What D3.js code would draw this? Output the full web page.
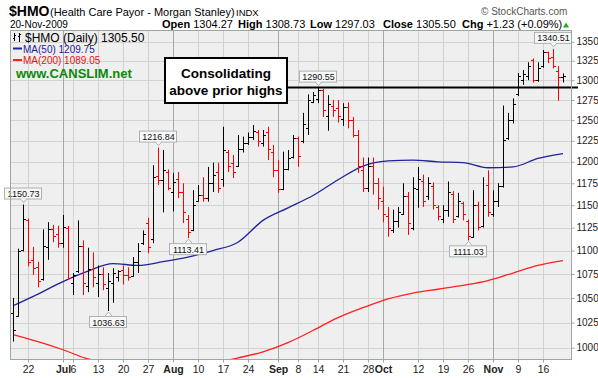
<!DOCTYPE html>
<html>
<head>
<meta charset="utf-8">
<script src="https://d3js.org/d3.v7.min.js"></script>
<style>
  body { margin: 0; background: #fff; }
  text { font-family: Arial, "Liberation Sans", sans-serif; }
</style>
</head>
<body>
<script>
// trading days on the chart
var dates = [
  "2009-06-17","2009-06-18","2009-06-19","2009-06-22","2009-06-23","2009-06-24","2009-06-25","2009-06-26","2009-06-29","2009-06-30",
  "2009-07-01","2009-07-02","2009-07-06","2009-07-07","2009-07-08","2009-07-09","2009-07-10","2009-07-13","2009-07-14","2009-07-15",
  "2009-07-16","2009-07-17","2009-07-20","2009-07-21","2009-07-22","2009-07-23","2009-07-24","2009-07-27","2009-07-28","2009-07-29",
  "2009-07-30","2009-07-31","2009-08-03","2009-08-04","2009-08-05","2009-08-06","2009-08-07","2009-08-10","2009-08-11","2009-08-12",
  "2009-08-13","2009-08-14","2009-08-17","2009-08-18","2009-08-19","2009-08-20","2009-08-21","2009-08-24","2009-08-25","2009-08-26",
  "2009-08-27","2009-08-28","2009-08-31","2009-09-01","2009-09-02","2009-09-03","2009-09-04","2009-09-08","2009-09-09","2009-09-10",
  "2009-09-11","2009-09-14","2009-09-15","2009-09-16","2009-09-17","2009-09-18","2009-09-21","2009-09-22","2009-09-23","2009-09-24",
  "2009-09-25","2009-09-28","2009-09-29","2009-09-30","2009-10-01","2009-10-02","2009-10-05","2009-10-06","2009-10-07","2009-10-08",
  "2009-10-09","2009-10-12","2009-10-13","2009-10-14","2009-10-15","2009-10-16","2009-10-19","2009-10-20","2009-10-21","2009-10-22",
  "2009-10-23","2009-10-26","2009-10-27","2009-10-28","2009-10-29","2009-10-30","2009-11-02","2009-11-03","2009-11-04","2009-11-05",
  "2009-11-06","2009-11-09","2009-11-10","2009-11-11","2009-11-12","2009-11-13","2009-11-16","2009-11-17","2009-11-18","2009-11-19",
  "2009-11-20"
];

// daily open / high / low / close
var opens = [
  1035,1032,1101,1133,1090,1082,1070,1104,1124,1118,
  1108,1125,1065,1078,1105,1062,1080,1066,1075,1060,
  1066,1072,1079,1074,1073,1088,1108,1130,1112,1183,
  1179,1188,1165,1180,1165,1135,1122,1155,1162,1158,
  1175,1188,1180,1212,1198,1195,1215,1222,1230,1236,
  1222,1235,1212,1190,1168,1192,1206,1228,1225,1240,
  1272,1276,1288,1255,1268,1265,1252,1266,1250,1232,
  1190,1170,1195,1175,1155,1138,1122,1132,1140,1160,
  1125,1168,1178,1160,1172,1148,1135,1145,1163,1138,
  1152,1132,1115,1150,1127,1173,1140,1155,1172,1228,
  1250,1282,1300,1305,1326,1300,1318,1336,1330,1312,
  1304.27
];
var highs = [
  1050,1102,1150.73,1135,1104,1088,1123,1131,1128,1127,
  1139,1127,1076,1133,1111,1103,1098,1084,1082,1076,
  1081,1079,1084,1082,1093,1108,1122,1136,1196,1216.84,
  1214,1191,1187,1188,1175,1139,1167,1173,1182,1194,
  1199,1199,1242,1214,1208,1232,1230,1235,1244,1238,
  1238,1242,1220,1202,1212,1214,1232,1230,1259,1282,
  1285,1290.55,1289,1281,1275,1275,1271,1272,1254,1238,
  1205,1205,1205,1181,1171,1148,1145,1148,1175,1165,
  1182,1194,1185,1182,1176,1150,1150,1177,1166,1164,
  1154,1134,1167,1154,1182,1190,1167,1175,1268,1259,
  1277,1309,1313,1323,1328,1323,1339,1337,1340.51,1318,
  1308.73
];
var lows = [
  1006,1031,1099,1083,1074,1061,1068,1090,1109,1103,
  1103,1069,1053,1076,1053,1056,1061,1051,1058,1036.63,
  1045,1067,1064,1068,1072,1076,1106,1097,1108,1173,
  1142,1167,1143,1158,1130,1113.41,1121,1154,1154,1154,
  1165,1164,1171,1188,1181,1194,1211,1220,1226,1218,
  1218,1202,1182,1164,1167,1190,1204,1194,1222,1232,
  1271,1271,1254,1237,1254,1247,1243,1240,1229,1187,
  1165,1165,1162,1145,1131,1115,1119,1125,1139,1117,
  1122,1147,1148,1156,1145,1133,1130,1137,1130,1136,
  1133,1111.03,1114,1122,1125,1137,1137,1148,1170,1226,
  1246,1280,1294,1300,1297,1298,1316,1322,1315,1274,
  1297.03
];
var closes = [
  1018,1100,1134,1088,1081,1068,1105,1124,1116,1108,
  1126,1071,1074,1105,1065,1080,1072,1075,1064,1068,
  1076,1078,1074,1072,1088,1100,1118,1104,1182,1179,
  1190,1170,1177,1165,1142,1120,1150,1162,1158,1175,
  1185,1170,1214,1195,1188,1215,1222,1230,1237,1225,
  1232,1215,1190,1168,1192,1205,1228,1207,1245,1275,
  1281,1287,1262,1270,1262,1255,1266,1250,1232,1195,
  1170,1195,1175,1158,1140,1125,1132,1142,1160,1130,
  1170,1180,1155,1175,1150,1138,1145,1165,1135,1155,
  1140,1116,1150,1126,1150,1142,1155,1172,1226,1250,
  1270,1305,1308,1318,1300,1315,1336,1328,1318,1304.27,
  1305.50
];

// moving averages, read every fifth trading day
var maDates = ["2009-06-17","2009-06-24","2009-07-01","2009-07-09","2009-07-16","2009-07-23","2009-07-30","2009-08-06",
  "2009-08-13","2009-08-20","2009-08-27","2009-09-03","2009-09-11","2009-09-18","2009-09-25","2009-10-02","2009-10-09",
  "2009-10-16","2009-10-23","2009-10-30","2009-11-06","2009-11-13","2009-11-20"];
var ma50 = [1042,1054,1067,1078,1086,1084,1088,1093,1100,1109,1133,1147,1161,1179,1195,1201,1202,1200,1199,1193,1194,1204,1209.75];
var ma200 = [1013,1006,998,989,985,982,981,982,985,990,996,1005,1017,1030,1040,1049,1055,1059,1063,1068,1076,1084,1089.05];

// price callouts
var callDates = ["2009-06-19","2009-07-15","2009-07-29","2009-08-06","2009-09-14","2009-10-26","2009-11-18"];
var callValues = [1150.73,1036.63,1216.84,1113.41,1290.55,1111.03,1340.51];
var callSide = ["up","down","up","down","up","down","up"];

// axis labels
var yTicks = [1000,1025,1050,1075,1100,1125,1150,1175,1200,1225,1250,1275,1300,1325,1350];
var xTickDates = ["2009-06-22","2009-07-01","2009-07-06","2009-07-13","2009-07-20","2009-07-27","2009-08-03","2009-08-10",
  "2009-08-17","2009-08-24","2009-09-01","2009-09-08","2009-09-14","2009-09-21","2009-09-28","2009-10-01","2009-10-12",
  "2009-10-19","2009-10-26","2009-11-02","2009-11-09","2009-11-16"];
var xTickLabels = ["22","Jul","6","13","20","27","Aug","10","17","24","Sep","8","14","21","28","Oct","12","19","26","Nov","9","16"];
var monthLabels = ["Jul","Aug","Sep","Oct","Nov"];

var priorHigh = 1290.55;

// chart box
var width = 598, height = 378;
var plotLeft = 10, plotRight = 571, plotTop = 30, plotBottom = 359;

var svg = d3.select("body").append("svg")
  .attr("width", width)
  .attr("height", height);

var x = d3.scalePoint().domain(dates).range([13, 563]);
var y = d3.scaleLog().domain([1000, 1350]).range([347.7, 41.7]);

// plot background
svg.append("rect")
  .attr("x", plotLeft).attr("y", plotTop)
  .attr("width", plotRight - plotLeft).attr("height", plotBottom - plotTop)
  .attr("fill", "#efefef");

svg.append("clipPath").attr("id", "plotclip")
  .append("rect")
  .attr("x", plotLeft).attr("y", plotTop)
  .attr("width", plotRight - plotLeft).attr("height", plotBottom - plotTop);

// grid
svg.selectAll(".hgrid")
  .data(yTicks)
  .enter()
  .append("line")
  .attr("x1", plotLeft).attr("x2", plotRight)
  .attr("y1", function(d) { return Math.round(y(d)) + 0.5; })
  .attr("y2", function(d) { return Math.round(y(d)) + 0.5; })
  .attr("stroke", "#d2d2d2");

svg.selectAll(".vgrid")
  .data(xTickDates)
  .enter()
  .append("line")
  .attr("x1", function(d) { return x(d) + 0.5; })
  .attr("x2", function(d) { return x(d) + 0.5; })
  .attr("y1", plotTop).attr("y2", plotBottom)
  .attr("stroke", function(d, i) {
    return monthLabels.indexOf(xTickLabels[i]) >= 0 ? "#a8a8a8" : "#d2d2d2";
  });

var plot = svg.append("g").attr("clip-path", "url(#plotclip)");

// moving averages
var maLine = d3.line()
  .x(function(d) { return x(d[0]); })
  .y(function(d) { return y(d[1]); })
  .curve(d3.curveMonotoneX);

plot.append("path")
  .attr("d", maLine(maDates.map(function(d, i) { return [d, ma200[i]]; })))
  .attr("fill", "none")
  .attr("stroke", "#ff2020")
  .attr("stroke-width", 1.3);

plot.append("path")
  .attr("d", maLine(maDates.map(function(d, i) { return [d, ma50[i]]; })))
  .attr("fill", "none")
  .attr("stroke", "#22229a")
  .attr("stroke-width", 1.3);

// price bars
var bars = dates.map(function(d, i) {
  return {date: d, o: opens[i], h: highs[i], l: lows[i], c: closes[i],
          up: i === 0 || closes[i] >= closes[i - 1]};
});

var bar = plot.selectAll(".bar")
  .data(bars)
  .enter()
  .append("g")
  .attr("stroke", function(d) { return d.up ? "#000" : "#ff0000"; })
  .attr("stroke-width", 1);

bar.append("line")
  .attr("x1", function(d) { return x(d.date) + 0.5; })
  .attr("x2", function(d) { return x(d.date) + 0.5; })
  .attr("y1", function(d) { return y(d.h); })
  .attr("y2", function(d) { return y(d.l); });

bar.append("line")
  .attr("x1", function(d) { return x(d.date) - 2; })
  .attr("x2", function(d) { return x(d.date) + 0.5; })
  .attr("y1", function(d) { return Math.round(y(d.o)) + 0.5; })
  .attr("y2", function(d) { return Math.round(y(d.o)) + 0.5; });

bar.append("line")
  .attr("x1", function(d) { return x(d.date) + 0.5; })
  .attr("x2", function(d) { return x(d.date) + 3; })
  .attr("y1", function(d) { return Math.round(y(d.c)) + 0.5; })
  .attr("y2", function(d) { return Math.round(y(d.c)) + 0.5; });

// prior highs line
svg.append("line")
  .attr("x1", 288).attr("x2", 578)
  .attr("y1", y(priorHigh)).attr("y2", y(priorHigh))
  .attr("stroke", "#000")
  .attr("stroke-width", 2);

// callouts
callDates.forEach(function(d, i) {
  var cx = x(d);
  var py = y(callValues[i]);
  var by = callSide[i] === "up" ? py - 17 : py + 5;
  var tip = callSide[i] === "up" ? py - 2 : py + 1;
  var edge = callSide[i] === "up" ? by + 11 : by;
  var g = svg.append("g");
  g.append("rect")
    .attr("x", cx - 18.5).attr("y", by + 0.5)
    .attr("width", 37).attr("height", 11)
    .attr("fill", "#f8f8f8")
    .attr("stroke", "#a9b3ad");
  g.append("path")
    .attr("d", "M" + (cx - 3) + "," + edge + "L" + (cx + 0.5) + "," + tip + "L" + (cx + 4) + "," + edge)
    .attr("fill", "#f8f8f8")
    .attr("stroke", "#a9b3ad");
  g.append("text")
    .attr("x", cx + 0.5).attr("y", by + 9.5)
    .attr("text-anchor", "middle")
    .attr("font-size", "9px")
    .attr("fill", "#111")
    .text(callValues[i].toFixed(2));
});

// annotation box
svg.append("rect")
  .attr("x", 165).attr("y", 58)
  .attr("width", 122).attr("height", 45)
  .attr("fill", "#fff")
  .attr("stroke", "#000")
  .attr("stroke-width", 2);
svg.append("text")
  .attr("x", 226).attr("y", 78)
  .attr("text-anchor", "middle")
  .attr("font-size", "13.5px").attr("font-weight", "bold")
  .text("Consolidating");
svg.append("text")
  .attr("x", 226).attr("y", 95)
  .attr("text-anchor", "middle")
  .attr("font-size", "13.5px").attr("font-weight", "bold")
  .text("above prior highs");

// plot border
svg.append("rect")
  .attr("x", plotLeft + 0.5).attr("y", plotTop + 0.5)
  .attr("width", plotRight - plotLeft).attr("height", plotBottom - plotTop)
  .attr("fill", "none")
  .attr("stroke", "#9aa8a0");

// y axis (right)
var yAxis = svg.append("g")
  .attr("transform", "translate(" + (plotRight + 0.5) + ",0)")
  .call(d3.axisRight(y).tickValues(yTicks).tickSize(3).tickPadding(2).tickFormat(d3.format("d")));
yAxis.select(".domain").remove();
yAxis.selectAll("line").attr("stroke", "#9aa8a0");
yAxis.selectAll("text")
  .attr("font-family", "Arial, 'Liberation Sans', sans-serif")
  .attr("font-size", "10px")
  .attr("fill", "#222");

// x axis (bottom)
var xAxis = svg.append("g")
  .attr("transform", "translate(0," + (plotBottom + 0.5) + ")")
  .call(d3.axisBottom(x).tickValues(xTickDates).tickSize(3).tickPadding(3)
    .tickFormat(function(d, i) { return xTickLabels[i]; }));
xAxis.select(".domain").remove();
xAxis.selectAll("line").attr("stroke", "#9aa8a0");
xAxis.selectAll("text")
  .attr("font-family", "Arial, 'Liberation Sans', sans-serif")
  .attr("font-size", "10.5px")
  .attr("fill", "#222")
  .attr("font-weight", function(d, i) { return monthLabels.indexOf(xTickLabels[i]) >= 0 ? "bold" : "normal"; });

// title block
svg.append("text").attr("x", 9).attr("y", 16)
  .attr("font-size", "14px").attr("font-weight", "bold")
  .text("$HMO");
svg.append("text").attr("x", 50).attr("y", 16)
  .attr("font-size", "11px")
  .text("(Health Care Payor - Morgan Stanley)");
svg.append("text").attr("x", 236).attr("y", 16)
  .attr("font-size", "9.5px")
  .text("INDX");
svg.append("text").attr("x", 481).attr("y", 15)
  .attr("font-size", "10px").attr("fill", "#555")
  .text("\u00a9 StockCharts.com");
svg.append("text").attr("x", 10).attr("y", 28)
  .attr("font-size", "10px")
  .text("20-Nov-2009");

var quoteLabels = ["Open", "High", "Low", "Close", "Chg"];
var quoteValues = ["1304.27", "1308.73", "1297.03", "1305.50", "+1.23 (+0.09%)"];
var quoteX = [162, 238, 310, 383, 462];
quoteLabels.forEach(function(q, i) {
  var t = svg.append("text").attr("x", quoteX[i]).attr("y", 28).attr("font-size", "11px");
  t.append("tspan").attr("font-weight", "bold").text(q);
  t.append("tspan").text(" " + quoteValues[i]);
});
svg.append("path")
  .attr("d", "M563,27.5L566,22.5L569,27.5Z")
  .attr("fill", "#22aa22");

// legend
var glyph = svg.append("g").attr("stroke", "#000").attr("stroke-width", 1);
glyph.append("line").attr("x1", 14.5).attr("x2", 14.5).attr("y1", 33).attr("y2", 41);
glyph.append("line").attr("x1", 13).attr("x2", 14.5).attr("y1", 38.5).attr("y2", 38.5);
glyph.append("line").attr("x1", 14.5).attr("x2", 16).attr("y1", 35.5).attr("y2", 35.5);
glyph.append("line").attr("x1", 19.5).attr("x2", 19.5).attr("y1", 33).attr("y2", 42);
glyph.append("line").attr("x1", 18).attr("x2", 19.5).attr("y1", 36.5).attr("y2", 36.5);
glyph.append("line").attr("x1", 19.5).attr("x2", 21).attr("y1", 34.5).attr("y2", 34.5);
svg.append("text").attr("x", 25).attr("y", 41.5)
  .attr("font-size", "12px")
  .text("$HMO (Daily) 1305.50");

svg.append("line").attr("x1", 13).attr("x2", 22).attr("y1", 48.5).attr("y2", 48.5)
  .attr("stroke", "#22229a").attr("stroke-width", 2);
svg.append("text").attr("x", 23).attr("y", 52.5)
  .attr("font-size", "10px").attr("fill", "#22229a")
  .text("MA(50) 1209.75");
svg.append("line").attr("x1", 13).attr("x2", 22).attr("y1", 60).attr("y2", 60)
  .attr("stroke", "#ff2020").attr("stroke-width", 2);
svg.append("text").attr("x", 23).attr("y", 64)
  .attr("font-size", "10px").attr("fill", "#ee1010")
  .text("MA(200) 1089.05");
svg.append("text").attr("x", 16).attr("y", 77.5)
  .attr("font-size", "13px").attr("font-weight", "bold").attr("fill", "#0a8a0a")
  .text("www.CANSLIM.net");
</script>
</body>
</html>
